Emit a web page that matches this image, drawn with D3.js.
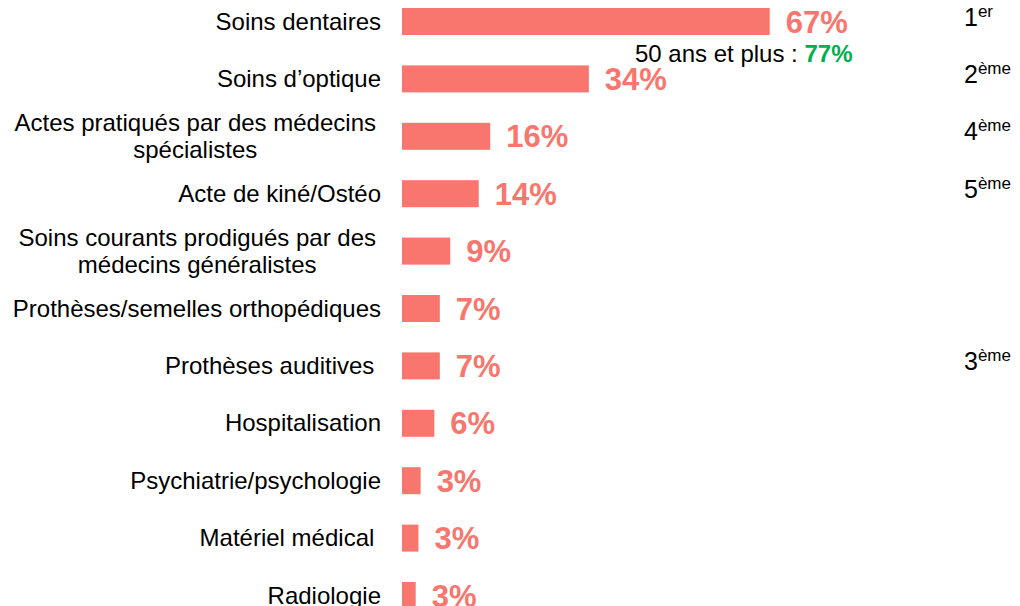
<!DOCTYPE html>
<html lang="fr">
<head>
<meta charset="utf-8">
<script src="https://cdn.jsdelivr.net/npm/d3@7"></script>
<style>
  html, body { margin: 0; padding: 0; background: #fff; }
  svg { display: block; font-family: Arial, "Liberation Sans", sans-serif; }
  .cat { white-space: pre; }
</style>
</head>
<body>
<svg id="chart" width="1020" height="606"></svg>
<script>
// ---- data ----
const CATEGORIES = [
  'Soins dentaires',
  'Soins d\u2019optique',
  'Actes pratiqués par des médecins\nspécialistes',
  'Acte de kiné/Ostéo',
  'Soins courants prodigués par des\nmédecins généralistes',
  'Prothèses/semelles orthopédiques',
  'Prothèses auditives ',
  'Hospitalisation',
  'Psychiatrie/psychologie',
  'Matériel médical ',
  'Radiologie'
];
const SHARES = [67.1, 34.1, 16.1, 14.0, 8.8, 6.9, 6.9, 5.9, 3.4, 3.0, 2.5];

// rank annotations on the right
const RANK_ROWS = [0, 1, 2, 3, 6];
const RANK_NUMS = ['1', '2', '4', '5', '3'];
const RANK_SUPS = ['er', 'ème', 'ème', 'ème', 'ème'];

// callout under the first bar
const CALLOUT_TEXT = '50 ans et plus : ';
const CALLOUT_VALUE = '77%';

const BAR = '#F8766D';
const GREEN = '#00B050';

const svg = d3.select('#chart');

// ---- scales ----
const step = 57.4, barH = 27, top0 = 8;
const pad = 1 - barH / step;
const y = d3.scaleBand()
  .domain(d3.range(CATEGORIES.length))
  .range([top0, top0 + step * (CATEGORIES.length - pad)])
  .paddingInner(pad)
  .paddingOuter(0)
  .align(0);
const x = d3.scaleLinear().domain([0, 100]).range([402, 950]);
const cy = i => y(i) + y.bandwidth() / 2;

// ---- bars ----
svg.append('g').selectAll('rect')
  .data(SHARES)
  .join('rect')
  .attr('x', x(0))
  .attr('y', (d, i) => y(i))
  .attr('width', d => x(d) - x(0))
  .attr('height', y.bandwidth())
  .attr('fill', BAR);

// ---- value labels ----
svg.append('g').selectAll('text')
  .data(SHARES)
  .join('text')
  .attr('x', d => x(d) + 16)
  .attr('y', (d, i) => cy(i) + 11)
  .attr('font-size', 31)
  .attr('font-weight', 'bold')
  .attr('fill', BAR)
  .text(d => Math.round(d) + '%');

// ---- category labels (right aligned block, lines centred inside) ----
const catG = svg.append('g');
const RIGHT = 381, LINE_H = 27;
CATEGORIES.forEach((c, i) => {
  const lines = c.split('\n');
  const t = catG.append('text')
    .attr('class', 'cat')
    .attr('font-size', 24)
    .attr('fill', '#000');
  if (lines.length === 1) {
    t.attr('x', RIGHT).attr('y', cy(i) + 8).attr('text-anchor', 'end').text(c);
    return;
  }
  const spans = lines.map((l, k) => t.append('tspan')
    .attr('y', cy(i) + 8 + (k - (lines.length - 1) / 2) * LINE_H)
    .text(l));
  const w = d3.max(spans, s => s.node().getComputedTextLength());
  const mid = RIGHT - 5 - w / 2;
  spans.forEach(s => s.attr('x', mid).attr('text-anchor', 'middle'));
});

// ---- rank annotations ----
const rankG = svg.append('g');
RANK_ROWS.forEach((r, k) => {
  const t = rankG.append('text')
    .attr('x', 964)
    .attr('y', cy(r) + 4)
    .attr('font-size', 25)
    .attr('fill', '#000');
  t.append('tspan').text(RANK_NUMS[k]);
  t.append('tspan').attr('font-size', 17).attr('dy', -9).text(RANK_SUPS[k]);
});

// ---- callout ----
const call = svg.append('text')
  .attr('x', 635)
  .attr('y', 62)
  .attr('font-size', 24)
  .attr('fill', '#000')
  .attr('class', 'cat');
call.append('tspan').text(CALLOUT_TEXT);
call.append('tspan').attr('font-weight', 'bold').attr('fill', GREEN).text(CALLOUT_VALUE);
</script>
</body>
</html>
